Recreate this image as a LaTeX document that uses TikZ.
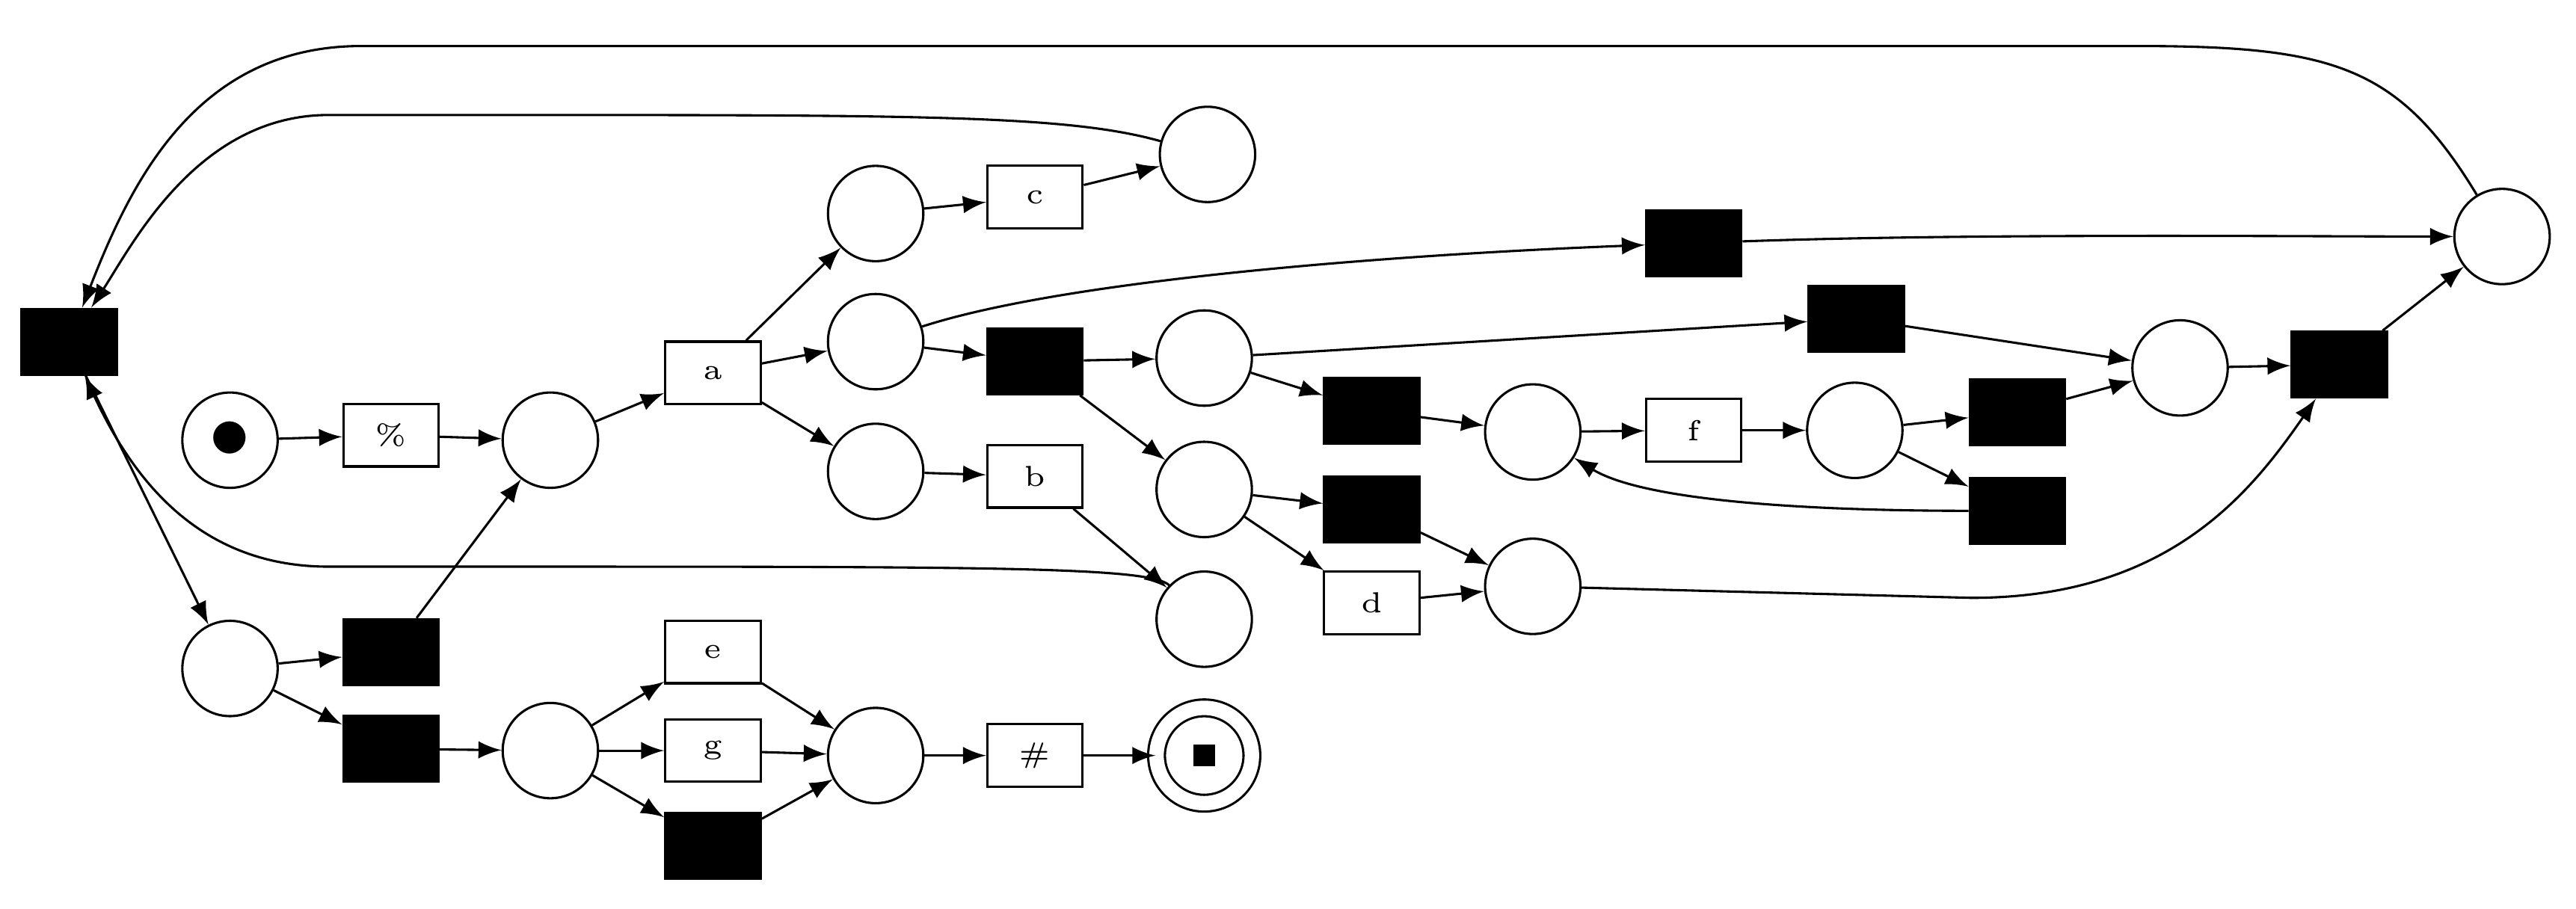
\documentclass[tikz,border=0pt]{standalone}
\usetikzlibrary{arrows}
\tikzset{
  place/.style={circle,draw,minimum size=0.58cm,inner sep=0pt},
  trans/.style={rectangle,draw,minimum width=0.58cm,minimum height=0.38cm,inner sep=0pt,font=\tiny},
  silent/.style={rectangle,draw,fill=black,minimum width=0.58cm,minimum height=0.4cm,inner sep=0pt},
  arc/.style={-latex,thin}
}
\begin{document}
\begin{tikzpicture}[x=0.01cm,y=-0.01cm]
\useasboundingbox (0,0) rectangle (1568,553);
% places
\node[place] (pstart) at (140,268) {\Large$\bullet$};
\node[place] (pa) at (335,268) {};
\node[place] (pc) at (533,130) {};
\node[place] (pcout) at (735,94) {};
\node[place] (pm) at (533,208) {};
\node[place] (pn) at (733,218) {};
\node[place] (pb) at (533,287) {};
\node[place] (pbout) at (733,377) {};
\node[place] (ploop) at (1523,144) {};
\node[place] (pjoin) at (1327,224) {};
\node[place] (pf) at (933,263) {};
\node[place] (pfout) at (1129,262) {};
\node[place] (pd) at (733,298) {};
\node[place] (pdout) at (933,357) {};
\node[place] (pleft) at (140,407) {};
\node[place] (peg) at (335,457) {};
\node[place] (pegout) at (533,460) {};
\node[place,double,double distance=2.5pt] (pend) at (733,460) {\rule{1.3mm}{1.3mm}};
% transitions
\node[silent] (tback) at (42,208) {};
\node[trans] (tpct) at (238,265) {\%};
\node[trans] (ta) at (434,227) {a};
\node[trans] (tc) at (630,120) {c};
\node[silent] (tm) at (630,220) {};
\node[trans] (tb) at (630,290) {b};
\node[silent] (ttop) at (1031,148) {};
\node[silent] (tn) at (1130,194) {};
\node[silent] (tfin) at (1424,222) {};
\node[silent] (tf1) at (835,250) {};
\node[trans] (tf) at (1031,262) {f};
\node[silent] (tf2) at (1228,251) {};
\node[silent] (tf3) at (1228,311) {};
\node[silent] (td1) at (835,310) {};
\node[trans] (td) at (835,367) {d};
\node[silent] (tl1) at (238,397) {};
\node[silent] (tl2) at (238,456) {};
\node[trans] (te) at (434,397) {e};
\node[trans] (tg) at (434,457) {g};
\node[silent] (tx) at (434,515) {};
\node[trans] (thash) at (630,460) {\#};
% arcs
\draw[arc] (ploop) .. controls (1460,40) and (1420,28) .. (1300,28) -- (220,28) .. controls (120,28) and (80,110) .. (tback);
\draw[arc] (pcout) .. controls (650,70) and (560,70) .. (300,70) -- (200,70) .. controls (120,70) and (80,150) .. (tback);
\draw[arc] (pbout) .. controls (700,345) and (600,345) .. (300,345) -- (200,345) .. controls (120,345) and (80,290) .. (tback);
\draw[arc] (tback) -- (pleft);
\draw[arc] (pstart) -- (tpct);
\draw[arc] (tpct) -- (pa);
\draw[arc] (pa) -- (ta);
\draw[arc] (ta) -- (pc);
\draw[arc] (ta) -- (pm);
\draw[arc] (ta) -- (pb);
\draw[arc] (pc) -- (tc);
\draw[arc] (tc) -- (pcout);
\draw[arc] (pm) -- (tm);
\draw[arc] (pm) .. controls (650,170) and (850,155) .. (ttop);
\draw[arc] (tm) -- (pn);
\draw[arc] (tm) -- (pd);
\draw[arc] (pn) -- (tn);
\draw[arc] (pn) -- (tf1);
\draw[arc] (tn) -- (pjoin);
\draw[arc] (tf1) -- (pf);
\draw[arc] (pf) -- (tf);
\draw[arc] (tf) -- (pfout);
\draw[arc] (pfout) -- (tf2);
\draw[arc] (pfout) -- (tf3);
\draw[arc] (tf3) .. controls (1100,311) and (1000,305) .. (pf);
\draw[arc] (tf2) -- (pjoin);
\draw[arc] (pjoin) -- (tfin);
\draw[arc] (tfin) -- (ploop);
\draw[arc] (ttop) .. controls (1200,142) and (1400,144) .. (ploop);
\draw[arc] (pb) -- (tb);
\draw[arc] (tb) -- (pbout);
\draw[arc] (pd) -- (td1);
\draw[arc] (pd) -- (td);
\draw[arc] (td1) -- (pdout);
\draw[arc] (td) -- (pdout);
\draw[arc] (pdout) -- (1200,364) .. controls (1320,364) and (1370,300) .. (tfin);
\draw[arc] (pleft) -- (tl1);
\draw[arc] (pleft) -- (tl2);
\draw[arc] (tl1) -- (pa);
\draw[arc] (tl2) -- (peg);
\draw[arc] (peg) -- (te);
\draw[arc] (peg) -- (tg);
\draw[arc] (peg) -- (tx);
\draw[arc] (te) -- (pegout);
\draw[arc] (tg) -- (pegout);
\draw[arc] (tx) -- (pegout);
\draw[arc] (pegout) -- (thash);
\draw[arc] (thash) -- (pend);
\end{tikzpicture}
\end{document}
